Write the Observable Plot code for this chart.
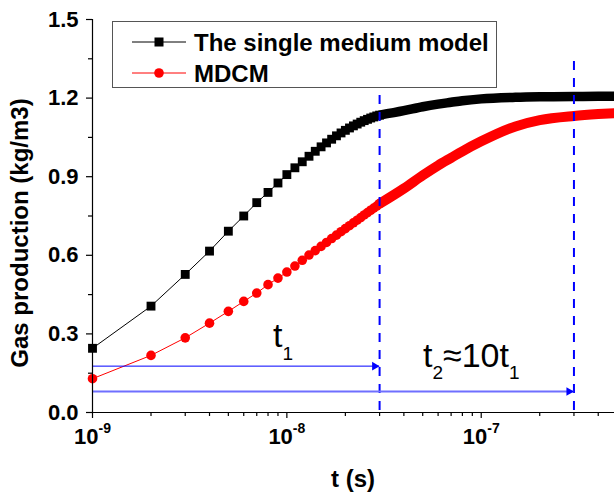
<!DOCTYPE html>
<html><head><meta charset="utf-8">
<script src="https://cdn.jsdelivr.net/npm/d3@7"></script>
<script src="https://cdn.jsdelivr.net/npm/@observablehq/plot@0.6"></script>
<style>html,body{margin:0;padding:0;background:#fff;overflow:hidden}</style>
</head><body><div id="chart"></div>
<script>
// ---- data (time in ns) ----
const tNs = [1,2,3,4,5,6,7,8,9,10,11,12,13,14,15,16,17,18,19,20,21,22,23,24,25,26,27,28,29,30];
const singleMedium = [0.245,0.406,0.527,0.616,0.692,0.750,0.801,0.840,0.876,0.908,0.934,0.957,0.978,0.997,1.014,1.029,1.043,1.056,1.067,1.077,1.086,1.094,1.101,1.108,1.114,1.119,1.124,1.128,1.132,1.135];
const mdcm = [0.129,0.218,0.285,0.341,0.386,0.424,0.456,0.488,0.513,0.536,0.559,0.581,0.601,0.618,0.634,0.649,0.664,0.677,0.690,0.702,0.713,0.724,0.734,0.744,0.754,0.763,0.772,0.780,0.788,0.797];
// dense part (markers merge into a continuous band)
const tNsBand = [30,40,50,60,70,80,100,150,200,300,400,500];
const singleMediumBand = [1.135,1.152,1.167,1.177,1.184,1.190,1.197,1.203,1.205,1.206,1.207,1.207];
const mdcmBand = [0.797,0.855,0.905,0.943,0.972,0.997,1.035,1.092,1.116,1.132,1.139,1.143];
const seriesNames = ["The single medium model", "MDCM"];
const xTicks = [1e-9, 1e-8, 1e-7];
const xTickExponents = ["-9", "-8", "-7"];
const xMinorTicks = [2e-9,3e-9,4e-9,5e-9,6e-9,7e-9,8e-9,9e-9,2e-8,3e-8,4e-8,5e-8,6e-8,7e-8,8e-8,9e-8,2e-7,3e-7,4e-7];
const yTicks = [0, 0.3, 0.6, 0.9, 1.2, 1.5];
const yMinorTicks = [0.15, 0.45, 0.75, 1.05, 1.35];
const t1 = 3e-8, t2 = 3e-7;
const markerTimes = [t1, t2];
const markerTop = 1.34;
const arrows = [{y: 0.177, end: t1}, {y: 0.080, end: t2}];
const xDomain = [1e-9, 4.85e-7];
const yDomain = [0, 1.5];

const NS = 1e-9;
const toPts = (ts, vs) => ts.map((t, i) => ({t: t * NS, v: vs[i]}));
const blackPts = toPts(tNs, singleMedium);
const redPts = toPts(tNs, mdcm);
const blackBand = toPts(tNsBand, singleMediumBand);
const redBand = toPts(tNsBand, mdcmBand);

const FONT = "'Liberation Sans', Arial, sans-serif";
const BLUE = "#0000ff";

const plot = Plot.plot({
  width: 614, height: 498,
  marginLeft: 92, marginRight: 0, marginTop: 19, marginBottom: 86,
  style: {fontFamily: FONT, background: "white", color: "black"},
  x: {type: "log", domain: xDomain},
  y: {domain: yDomain},
  marks: [
    Plot.axisY({ticks: yTicks, tickSize: 6, tickPadding: 8, tickFormat: d => d.toFixed(1), fontSize: 22, fontWeight: "bold", label: null, strokeWidth: 1.2}),
    Plot.axisY({ticks: yMinorTicks, tickSize: 4, tickFormat: () => "", label: null, strokeWidth: 1.2}),
    Plot.axisX({ticks: xTicks, tickSize: 6, tickFormat: () => "", label: null, strokeWidth: 1.2}),
    Plot.axisX({ticks: xMinorTicks, tickSize: 4, tickFormat: () => "", label: null, strokeWidth: 1.2}),
    Plot.text(xTicks, {x: d => d, frameAnchor: "bottom", text: () => "10", dx: 6, dy: 31, textAnchor: "end", fontSize: 22, fontWeight: "bold"}),
    Plot.text(xTicks, {x: d => d, frameAnchor: "bottom", text: (d, i) => xTickExponents[i], dx: 6, dy: 20, textAnchor: "start", fontSize: 14, fontWeight: "bold"}),
    // series
    Plot.line(blackPts, {x: "t", y: "v", stroke: "black", strokeWidth: 1}),
    Plot.line(blackBand, {x: "t", y: "v", stroke: "black", strokeWidth: 9.5, curve: "monotone-x", clip: true}),
    Plot.dot(blackPts, {x: "t", y: "v", symbol: "square", r: 5, fill: "black"}),
    Plot.line(redPts, {x: "t", y: "v", stroke: "red", strokeWidth: 1}),
    Plot.line(redBand, {x: "t", y: "v", stroke: "red", strokeWidth: 10, curve: "monotone-x", clip: true}),
    Plot.dot(redPts, {x: "t", y: "v", symbol: "circle", r: 4.8, fill: "red"}),
    // annotation: dashed markers and arrows
    Plot.ruleX(markerTimes, {x: d => d, y1: () => markerTop, y2: () => 0, stroke: BLUE, strokeWidth: 2, strokeDasharray: "9,8"}),
    Plot.ruleY(arrows.slice(0, 1), {y: "y", x1: () => xDomain[0], x2: d => d.end, stroke: BLUE, strokeWidth: 1}),
    Plot.ruleY(arrows.slice(1), {y: "y", x1: () => xDomain[0], x2: d => d.end, stroke: "#6f6fff", strokeWidth: 2}),
    Plot.dot(arrows, {x: d => d.end, y: "y", symbol: "triangle", rotate: 90, r: 3.2, fill: BLUE, dx: -5}),
    // axis lines
    Plot.ruleY([0], {stroke: "black", strokeWidth: 1.2}),
    Plot.ruleX([xDomain[0]], {stroke: "black", strokeWidth: 1.2})
  ]
});

const svg = d3.select(plot);

// axis titles
svg.append("text").attr("transform", "translate(28,233) rotate(-90)")
  .attr("text-anchor", "middle").attr("font-family", FONT).attr("font-size", 24).attr("font-weight", "bold")
  .attr("fill", "black").text("Gas production (kg/m3)");
svg.append("text").attr("x", 353).attr("y", 487)
  .attr("text-anchor", "middle").attr("font-family", FONT).attr("font-size", 24).attr("font-weight", "bold")
  .attr("fill", "black").text("t (s)");

// t1 / t2 annotations
const a1 = svg.append("text").attr("x", 273).attr("y", 347).attr("text-anchor", "start")
  .attr("font-family", FONT).attr("font-size", 34).attr("fill", "black");
a1.append("tspan").text("t");
a1.append("tspan").attr("dy", 13).attr("font-size", 19).text("1");
const a2 = svg.append("text").attr("x", 423).attr("y", 367).attr("text-anchor", "start")
  .attr("font-family", FONT).attr("font-size", 34).attr("fill", "black");
a2.append("tspan").text("t");
a2.append("tspan").attr("dy", 12).attr("font-size", 19).text("2");
a2.append("tspan").attr("dy", -12).text("\u224810t");
a2.append("tspan").attr("dy", 12).attr("font-size", 19).text("1");

// legend
const lg = svg.append("g");
lg.append("rect").attr("x", 112.5).attr("y", 21.5).attr("width", 384).attr("height", 66)
  .attr("fill", "white").attr("stroke", "#555").attr("stroke-width", 1);
const rows = [{y: 42, color: "black", sym: "square"}, {y: 73, color: "red", sym: "circle"}];
rows.forEach((r, i) => {
  lg.append("line").attr("x1", 132).attr("x2", 186).attr("y1", r.y).attr("y2", r.y).attr("stroke", r.color).attr("stroke-width", 1);
  if (r.sym === "square") lg.append("rect").attr("x", 159 - 4.5).attr("y", r.y - 4.5).attr("width", 9).attr("height", 9).attr("fill", r.color);
  else lg.append("circle").attr("cx", 159).attr("cy", r.y).attr("r", 4.8).attr("fill", r.color);
  lg.append("text").attr("x", 194).attr("y", r.y + 8.5).attr("text-anchor", "start").attr("font-family", FONT).attr("font-size", 24)
    .attr("font-weight", "bold").attr("fill", "black").text(seriesNames[i]);
});

document.getElementById("chart").appendChild(plot);
</script>
</body></html>
